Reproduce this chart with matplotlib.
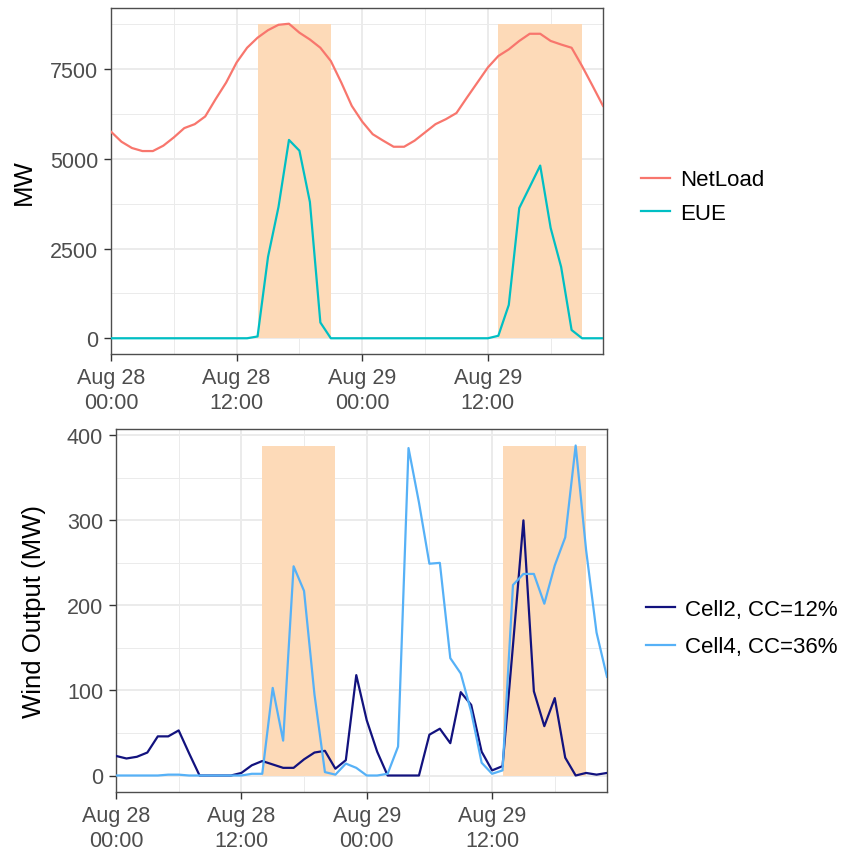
import matplotlib
matplotlib.use("Agg")
import matplotlib.pyplot as plt
import pandas as pd

plt.rcParams['font.family'] = ['Liberation Sans', 'DejaVu Sans']

# ---- data ----
start_time = "2016-08-28 00:00"
n_hours = 48
times = pd.date_range(start_time, periods=n_hours, freq="h")

netload = [5760, 5480, 5305, 5220, 5220, 5370, 5600, 5860, 5970, 6185, 6670, 7130,
           7690, 8100, 8380, 8590, 8740, 8770, 8520, 8330, 8100, 7730, 7130, 6480,
           6040, 5690, 5510, 5340, 5340, 5510, 5740, 5970, 6110, 6280, 6710, 7130,
           7550, 7870, 8055, 8290, 8490, 8490, 8290, 8190, 8100, 7590, 7040, 6480]
eue = [0, 0, 0, 0, 0, 0, 0, 0, 0, 0, 0, 0,
       0, 0, 50, 2270, 3660, 5530, 5230, 3800, 440, 0, 0, 0,
       0, 0, 0, 0, 0, 0, 0, 0, 0, 0, 0, 0,
       0, 70, 930, 3630, 4220, 4815, 3075, 1990, 230, 0, 0, 0]
cell2 = [23, 20, 22, 27, 46, 46, 53, 26, 0, 0, 0, 0,
         3, 12, 17, 13, 9, 9, 19, 27, 29, 8, 18, 118,
         65, 28, 0, 0, 0, 0, 48, 55, 38, 98, 83, 28,
         6, 11, 153, 300, 99, 58, 91, 21, 0, 3, 1, 3]
cell4 = [0, 0, 0, 0, 0, 1, 1, 0, 0, 0, 0, 0,
         0, 2, 2, 103, 41, 246, 217, 95, 4, 1, 14, 9,
         0, 0, 2, 34, 385, 321, 249, 250, 138, 120, 75, 15,
         2, 6, 224, 237, 237, 202, 247, 280, 388, 265, 168, 116]

# shaded event windows (hour index into times)
shade_start = [14, 37]
shade_end = [21, 45]

# x tick positions (hour index) and labels
xtick_idx = [0, 12, 24, 36]
xtick_labels = ["Aug 28\n00:00", "Aug 28\n12:00", "Aug 29\n00:00", "Aug 29\n12:00"]
xminor_idx = [6, 18, 30, 42]

top_labels = ["NetLoad", "EUE"]
bottom_labels = ["Cell2, CC=12%", "Cell4, CC=36%"]
top_ylabel = "MW"
bottom_ylabel = "Wind Output (MW)"
top_yticks = [0, 2500, 5000, 7500]
top_yminor = [1250, 3750, 6250, 8750]
bottom_yticks = [0, 100, 200, 300, 400]
bottom_yminor = [50, 150, 250, 350]

# ---- style ----
W, H = 843, 853
fig = plt.figure(figsize=(W / 100, H / 100), dpi=100)

col_net = "#F8766D"
col_eue = "#00BFC4"
col_c2 = "#12127E"
col_c4 = "#56B1F7"
col_shade = "#FDDAB8"
tick_col = "#4D4D4D"
border_col = "#4D4D4D"


def px_axes(l, r, t, b):
    return fig.add_axes([l / W, 1 - b / H, (r - l) / W, (b - t) / H])


def style(ax, yticks, yminor):
    ax.set_facecolor("white")
    for s in ax.spines.values():
        s.set_color(border_col)
        s.set_linewidth(1.0)
    ax.set_xticks([times[i] for i in xtick_idx])
    ax.set_xticklabels(xtick_labels, linespacing=1.25, ha="center")
    ax.set_xticks([times[i] for i in xminor_idx], minor=True)
    ax.set_yticks(yticks)
    ax.set_yticks(yminor, minor=True)
    ax.grid(True, which="major", color="#EBEBEB", linewidth=1.4, zorder=0)
    ax.grid(True, which="minor", color="#EBEBEB", linewidth=0.7, zorder=0)
    ax.set_axisbelow(True)
    ax.tick_params(which="major", length=4.8, width=1.0, color="#333333",
                   labelsize=15.5, labelcolor=tick_col, pad=4.5)
    ax.tick_params(axis="x", which="major", pad=4.3)
    ax.tick_params(which="minor", length=0)
    ax.set_xlim(times[0], times[-1])


# ---- top panel ----
ax1 = px_axes(111, 603, 9, 355)
top_max = max(max(netload), max(eue))
for s0, s1 in zip(shade_start, shade_end):
    ax1.fill_between([times[s0], times[s1]], 0, top_max, color=col_shade,
                     linewidth=0, zorder=1)
ax1.plot(times, netload, color=col_net, lw=1.6, label=top_labels[0], zorder=3)
ax1.plot(times, eue, color=col_eue, lw=1.6, label=top_labels[1], zorder=3)
style(ax1, top_yticks, top_yminor)
ax1.set_ylim(-0.05 * top_max, 1.05 * top_max)
ax1.set_ylabel(top_ylabel, fontsize=18.5, color="black")
ax1.yaxis.set_label_coords(-0.152, 0.5)
leg1 = ax1.legend(loc="center left", bbox_to_anchor=(641 / W, 1 - 197.5 / H),
                  bbox_transform=fig.transFigure, frameon=False, fontsize=16,
                  handlelength=1.3, handletextpad=0.45, labelspacing=0.55,
                  borderpad=0, borderaxespad=0)

# ---- bottom panel ----
ax2 = px_axes(116, 607, 430, 793)
bot_max = max(max(cell2), max(cell4))
for s0, s1 in zip(shade_start, shade_end):
    ax2.fill_between([times[s0], times[s1]], 0, bot_max, color=col_shade,
                     linewidth=0, zorder=1)
ax2.plot(times, cell2, color=col_c2, lw=1.6, label=bottom_labels[0], zorder=3)
ax2.plot(times, cell4, color=col_c4, lw=1.6, label=bottom_labels[1], zorder=3)
style(ax2, bottom_yticks, bottom_yminor)
ax2.set_ylim(-0.05 * bot_max, 1.05 * bot_max)
ax2.set_ylabel(bottom_ylabel, fontsize=18.5, color="black")
ax2.yaxis.set_label_coords(-0.1425, 0.5)
leg2 = ax2.legend(loc="center left", bbox_to_anchor=(646 / W, 1 - 629 / H),
                  bbox_transform=fig.transFigure, frameon=False, fontsize=16,
                  handlelength=1.3, handletextpad=0.45, labelspacing=0.75,
                  borderpad=0, borderaxespad=0)

fig.savefig("out.png", dpi=100, facecolor="white")
